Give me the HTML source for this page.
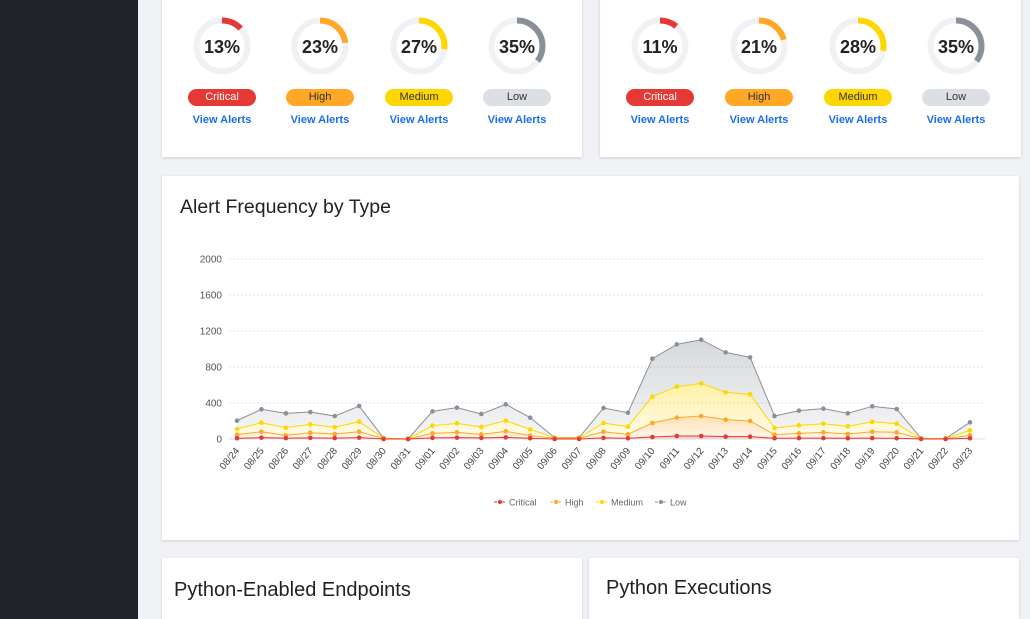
<!DOCTYPE html>
<html style="width:1030px;height:619px;overflow:hidden"><head><meta charset="utf-8"><style>
*{box-sizing:border-box;margin:0;padding:0}
html,body{width:1030px;height:619px;overflow:hidden}
body{background:#f1f2f6;font-family:"Liberation Sans",sans-serif;position:relative}
.side{position:absolute;left:0;top:0;width:138px;height:619px;background:#212529}
.card{position:absolute;background:#fff;box-shadow:0 1px 3px rgba(0,0,0,.15)}
.pill{position:absolute;width:68px;height:17px;border-radius:9px;font-size:11px;line-height:17px;text-align:center}
.va{position:absolute;width:80px;text-align:center;font-size:11px;color:#1a6ef0;font-weight:bold}
.ttl{position:absolute;font-size:20px;color:#222}
</style></head><body>
<div class="side"></div>
<div class="card" style="left:162px;top:-10px;width:420px;height:167px"></div>
<div class="card" style="left:600px;top:-10px;width:421px;height:167px"></div>
<div id="donuts"></div>
<div class="card" style="left:162px;top:176px;width:857px;height:364px">
<div class="ttl" style="left:18px;top:20px;font-size:19.5px">Alert Frequency by Type</div>
</div>
<svg id="chart" width="1030" height="619" style="position:absolute;left:0;top:0"></svg>
<div class="card" style="left:162px;top:558px;width:420px;height:61px">
<div class="ttl" style="left:12px;top:21px">Python-Enabled Endpoints</div></div>
<div class="card" style="left:589px;top:558px;width:430px;height:61px">
<div class="ttl" style="left:17px;top:19px">Python Executions</div></div>
<script>
const categories=["08/24","08/25","08/26","08/27","08/28","08/29","08/30","08/31","09/01","09/02","09/03","09/04","09/05","09/06","09/07","09/08","09/09","09/10","09/11","09/12","09/13","09/14","09/15","09/16","09/17","09/18","09/19","09/20","09/21","09/22","09/23"];
const critical=[8,15,10,12,10,15,0,0,12,15,12,18,8,0,0,12,8,22,33,33,26,26,8,10,10,8,10,8,0,0,8];
const high=[40,66,31,58,45,66,5,0,51,59,40,67,29,8,8,69,44,156,204,222,189,174,40,53,64,47,71,66,3,3,33];
const medium=[63,100,85,93,75,111,3,0,85,100,81,119,70,4,4,97,85,292,344,363,303,296,74,89,96,86,111,96,1,1,55];
const low=[93,149,159,137,125,174,2,0,159,174,145,181,130,3,3,166,155,422,470,485,444,411,133,163,167,144,171,163,1,1,89];
const yTicks=[0,400,800,1200,1600,2000];
const summary1=[13,23,27,35], summary2=[11,21,28,35];
const levels=["Critical","High","Medium","Low"];
const colors=["#e53935","#ffa726","#ffd600","#8a9099"];
const pillBg=["#e53935","#ffa726","#ffd600","#dcdfe3"];
const pillFg=["#fff","#333","#333","#333"];
const NS="http://www.w3.org/2000/svg";
const svg=document.getElementById('chart');
function el(t,a,p){const e=document.createElementNS(NS,t);for(const k in a)e.setAttribute(k,a[k]);(p||svg).appendChild(e);return e;}
const x0=237,x1=970,yb=439,yt=259,ymax=2000;
const xs=i=>x0+(x1-x0)*i/(categories.length-1);
const ys=v=>yb-(yb-yt)*v/ymax;
yTicks.forEach(t=>{
 const g=el('line',{x1:229,x2:985,y1:ys(t),y2:ys(t),stroke:t?'#e2e2e2':'#ddd','stroke-dasharray':t?'2,2':'none'});
 
 const tx=el('text',{x:222,y:ys(t)+3.5,'text-anchor':'end','font-size':10,fill:'#555'});tx.textContent=t;
 
});
categories.forEach((c,i)=>{
 const tx=el('text',{x:xs(i)+3,y:451,'text-anchor':'end','font-size':10,fill:'#444',transform:`rotate(-50 ${xs(i)+3} 451)`});tx.textContent=c;
 
});
const series=[critical,high,medium,low];
const cum=[];let acc=categories.map(()=>0);
series.forEach(s=>{acc=acc.map((a,i)=>a+s[i]);cum.push(acc.slice());});
const defs=el('defs',{});
colors.forEach((c,k)=>{const lg=el('linearGradient',{id:'g'+k,x1:0,y1:0,x2:0,y2:1},defs);
 el('stop',{offset:0,'stop-color':c,'stop-opacity':0.35},lg);el('stop',{offset:1,'stop-color':c,'stop-opacity':0.08},lg);});
for(let k=3;k>=0;k--){
 const top=cum[k],bot=k?cum[k-1]:categories.map(()=>0);
 let d='M'+top.map((v,i)=>xs(i)+','+ys(v)).join('L');
 for(let i=bot.length-1;i>=0;i--)d+='L'+xs(i)+','+ys(bot[i]);
 const a=el('path',{d:d+'Z',fill:`url(#g${k})`});
}
for(let k=3;k>=0;k--){
 const l=el('polyline',{points:cum[k].map((v,i)=>xs(i)+','+ys(v)).join(' '),fill:'none',stroke:colors[k],'stroke-width':1});
 
 cum[k].forEach((v,i)=>{const p=el('circle',{cx:xs(i),cy:ys(v),r:2.3,fill:colors[k]});
  });
}
const lx=[494,550,596,655];
levels.forEach((n,k)=>{
 const g=el('g',{});
 el('line',{x1:lx[k],x2:lx[k]+12,y1:502,y2:502,stroke:colors[k],'stroke-dasharray':'3,1'},g);
 el('circle',{cx:lx[k]+6,cy:502,r:2,fill:colors[k]},g);
 const t=el('text',{x:lx[k]+15,y:505.5,'font-size':9,fill:'#666'},g);t.textContent=n;
});
const dn=document.getElementById('donuts');
function donuts(vals,cxs,card){
 vals.forEach((v,k)=>{
  const cx=cxs[k],r=25.5,C=2*Math.PI*r;
  const d=document.createElement('div');
  d.innerHTML=`<svg width="64" height="64" style="position:absolute;left:${cx-32}px;top:14px"><circle cx="32" cy="32" r="${r}" fill="none" stroke="#f0f1f5" stroke-width="6"/><circle cx="32" cy="32" r="${r}" fill="none" stroke="${colors[k]}" stroke-width="6" stroke-dasharray="${C*v/100} ${C}" transform="rotate(-90 32 32)"/><text x="32" y="39" text-anchor="middle" font-size="18" fill="#222" font-weight="bold" font-family="Liberation Sans" style="font-weight:600">${v}%</text></svg>
  <div class="pill" style="left:${cx-34}px;top:89px;background:${pillBg[k]};color:${pillFg[k]}">${levels[k]}</div>
  <div class="va" style="left:${cx-40}px;top:114px">View Alerts</div>`;
  
  
  d.querySelector('.va');
  d.querySelector('.va');
  dn.appendChild(d);
 });
}
donuts(summary1,[222,320,419,517],'card1');
donuts(summary2,[660,759,858,956],'card2');
</script>
</body></html>
